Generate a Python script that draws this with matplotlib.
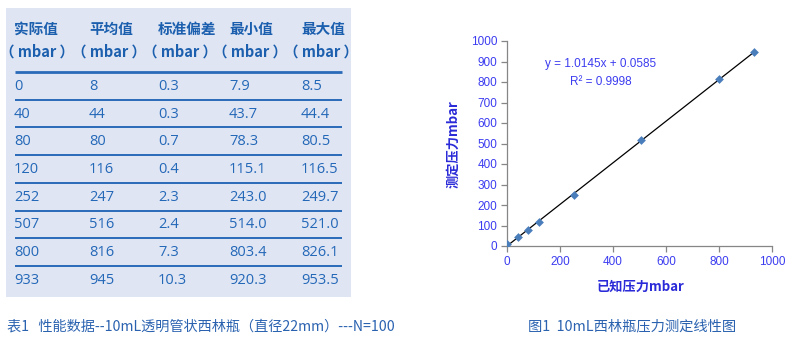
import matplotlib
matplotlib.use("Agg")
import matplotlib.pyplot as plt
from matplotlib.patches import Rectangle

plt.rcParams['font.family'] = ['Liberation Sans', 'Noto Sans CJK SC', 'DejaVu Sans']

# ---------------- data ----------------
headers = ["实际值", "平均值", "标准偏差", "最小值", "最大值"]
unit_label = "（ mbar ）"
actual = [0, 40, 80, 120, 252, 507, 800, 933]
mean = [8, 44, 80, 116, 247, 516, 816, 945]
std = [0.3, 0.3, 0.7, 0.4, 2.3, 2.4, 7.3, 10.3]
min_v = [7.9, 43.7, 78.3, 115.1, 243.0, 514.0, 803.4, 920.3]
max_v = [8.5, 44.4, 80.5, 116.5, 249.7, 521.0, 826.1, 953.5]
slope, intercept = 1.0145, 0.0585
r2 = 0.9998
ticks = [0, 100, 200, 300, 400, 500, 600, 700, 800, 900, 1000]
xticks = [0, 200, 400, 600, 800, 1000]

table_caption = "表1   性能数据--10mL透明管状西林瓶（直径22mm）---N=100"
chart_caption = "图1  10mL西林瓶压力测定线性图"
xlabel = "已知压力mbar"
ylabel = "测定压力mbar"

# ---------------- figure ----------------
W, H = 792, 351
fig = plt.figure(figsize=(W / 100, H / 100), dpi=100)
fig.patch.set_facecolor('white')

# overlay axes in pixel coordinates for the table
tab = fig.add_axes([0, 0, 1, 1])
tab.set_xlim(0, W)
tab.set_ylim(H, 0)
tab.axis('off')

tab.add_patch(Rectangle((6, 8), 345, 289, facecolor='#dfe5f3', edgecolor='none'))

hdr_color = '#1b5fae'
txt_color = '#2468b8'
line_color = '#2a6ab8'
col_x = [14, 89, 158, 229, 301]
col_c = [37, 109, 180, 250, 321]
cjk = ['Noto Sans CJK SC', 'DejaVu Sans']
for h, x, c in zip(headers, col_x, col_c):
    tab.text(x, 29, h, ha='left', va='center', fontsize=10.5, fontweight='bold',
             color=hdr_color, family=cjk)
    tab.text(c, 52, unit_label, ha='center', va='center', fontsize=10.5, fontweight='bold',
             color=hdr_color, family=cjk)

line_y0, step = 72, 27.7
tab.plot([15, 342], [line_y0, line_y0], color=line_color, lw=2.0, solid_capstyle='butt')
for i in range(1, len(actual)):
    y = line_y0 + i * step
    tab.plot([15, 342], [y, y], color=line_color, lw=1.4, solid_capstyle='butt')

for i in range(len(actual)):
    y = line_y0 + 14.5 + i * step
    vals = [f"{actual[i]}", f"{mean[i]}", f"{std[i]:.1f}", f"{min_v[i]:.1f}", f"{max_v[i]:.1f}"]
    for v, x in zip(vals, col_x):
        tab.text(x, y, v, ha='left', va='center', fontsize=10.5, color=txt_color,
                 family=['Open Sans', 'DejaVu Sans'])

tab.text(7, 326, table_caption, ha='left', va='center', fontsize=10.2, color='#2a62b0',
         family=cjk)
tab.text(632, 326, chart_caption, ha='center', va='center', fontsize=10.3, color='#2a62b0',
         family=cjk)

# ---------------- chart ----------------
ax = fig.add_axes([507 / W, 1 - 246 / H, (772 - 507) / W, (246 - 41) / H])
ax.set_xlim(0, 1000)
ax.set_ylim(0, 1000)
tick_color = '#3c3cf0'
xs = [0, max(actual)]
ax.plot(xs, [slope * x + intercept for x in xs], color='black', lw=0.9, zorder=2)
ax.scatter(actual, mean, marker='D', s=20, color='#4a7ebb', zorder=3, linewidths=0)

ax.set_xticks(xticks)
ax.set_yticks(ticks)
for s in ['top', 'right']:
    ax.spines[s].set_visible(False)
for s in ['left', 'bottom']:
    ax.spines[s].set_color('#868686')
    ax.spines[s].set_linewidth(0.9)
ax.tick_params(axis='both', direction='out', length=4, width=0.9, color='#868686',
               labelcolor=tick_color, labelsize=8.5, pad=3)

fig.text(601 / W, 1 - 64 / H, f"y = {slope}x + {intercept}",
         fontsize=8.5, color=tick_color, ha='center', va='center')
fig.text(601 / W, 1 - 82 / H, f"R² = {r2}",
         fontsize=8.5, color=tick_color, ha='center', va='center')

fig.text(453 / W, 1 - 144 / H, ylabel, rotation=90, ha='center', va='center', fontsize=9.5,
         fontweight='bold', color='#2a2ad8', family=cjk)
fig.text(641 / W, 1 - 287 / H, xlabel, ha='center', va='center', fontsize=9.5,
         fontweight='bold', color='#2a2ad8', family=cjk)

fig.savefig('out.png', dpi=100, facecolor='white')
